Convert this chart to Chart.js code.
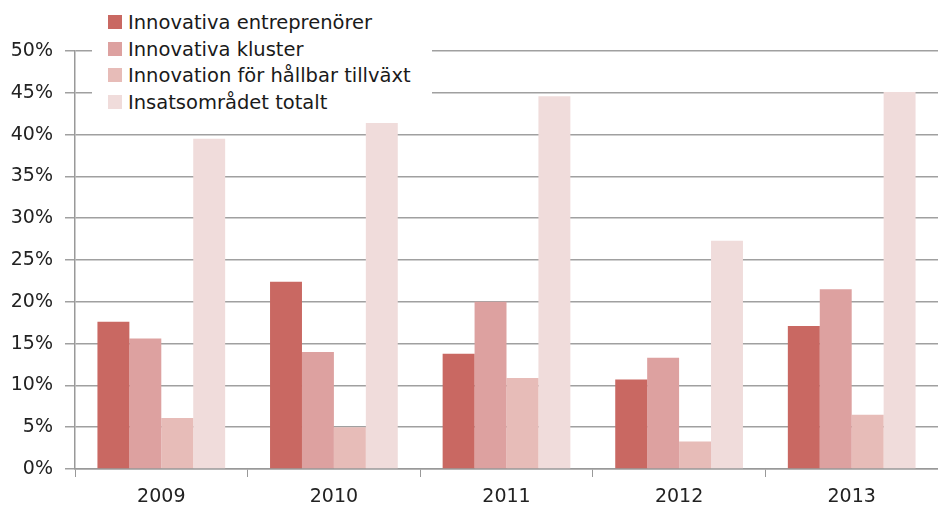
<!DOCTYPE html>
<html>
<head>
<meta charset="utf-8">
<script src="https://cdn.jsdelivr.net/npm/chart.js@4"></script>
<style>
  html, body { margin: 0; padding: 0; background: #fff; }
  #wrap { position: relative; width: 938px; height: 512px; }
  #legend {
    position: absolute; left: 92px; top: 6px; width: 340px; height: 116px;
    background: #fff; font-family: "DejaVu Sans", sans-serif; font-size: 19.5px; color: #1a1a1a;
  }
  #legend div { position: absolute; left: 16px; height: 26px; line-height: 26px; white-space: nowrap; }
  #legend span.box { display: inline-block; width: 14px; height: 14px; margin-right: 6px; vertical-align: 0px; }
</style>
</head>
<body>
<div id="wrap">
  <canvas id="chart" width="938" height="512"></canvas>
  <div id="legend"></div>
</div>
<script>
// kategorier och serier
const years = ['2009', '2010', '2011', '2012', '2013'];
const seriesNames = ['Innovativa entreprenörer', 'Innovativa kluster', 'Innovation för hållbar tillväxt', 'Insatsområdet totalt'];
const entreprenorer = [17.6, 22.4, 13.8, 10.7, 17.1];
const kluster = [15.6, 14.0, 20.0, 13.3, 21.5];
const hallbar = [6.1, 5.0, 10.9, 3.3, 6.5];
const totalt = [39.5, 41.4, 44.6, 27.3, 45.1];
const colors = ['#c96862', '#dda1a0', '#e7bcb8', '#f0dcdb'];

const allData = [entreprenorer, kluster, hallbar, totalt];

// legend i HTML med vit bakgrund (täcker stödlinjerna som i originalet)
const legendEl = document.getElementById('legend');
seriesNames.forEach((name, i) => {
  const row = document.createElement('div');
  row.style.top = (4 + i * 26.7) + 'px';
  row.innerHTML = '<span class="box" style="background:' + colors[i] + '"></span>' + name;
  legendEl.appendChild(row);
});

const ctx = document.getElementById('chart').getContext('2d');
new Chart(ctx, {
  type: 'bar',
  data: {
    labels: years,
    datasets: seriesNames.map((name, i) => ({
      label: name,
      data: allData[i],
      backgroundColor: colors[i],
      borderWidth: 0,
      categoryPercentage: 0.74,
      barPercentage: 1.0
    }))
  },
  options: {
    responsive: false,
    animation: false,
    layout: { padding: { top: 51, right: 0, left: 0, bottom: 0 } },
    plugins: {
      legend: { display: false },
      tooltip: { enabled: false }
    },
    scales: {
      x: {
        afterFit: (s) => { s.height = 43; },
        grid: { display: true, drawOnChartArea: false, offset: true, tickLength: 8, color: '#999' },
        border: { color: '#999', width: 1.5 },
        ticks: { color: '#222', padding: 9, font: { family: 'DejaVu Sans', size: 19 } }
      },
      y: {
        min: 0,
        max: 50,
        afterFit: (s) => { s.width = 75; },
        grid: { color: '#a0a0a0', lineWidth: 1.5, tickLength: 10 },
        border: { color: '#999', width: 1.5 },
        ticks: {
          stepSize: 5,
          color: '#222',
          padding: 12,
          font: { family: 'DejaVu Sans', size: 19 },
          callback: (v) => v + '%'
        }
      }
    }
  }
});
</script>
</body>
</html>
